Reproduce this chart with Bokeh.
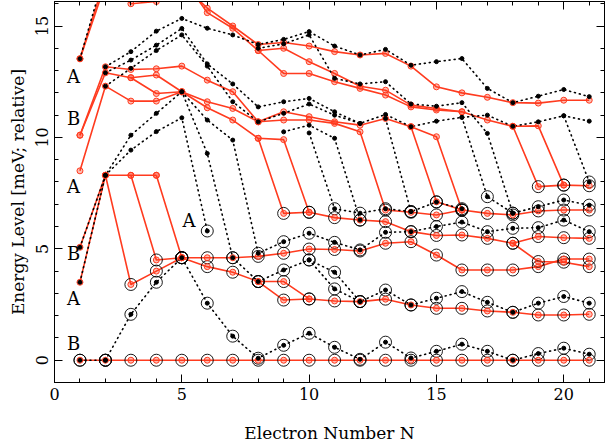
from bokeh.plotting import figure
from bokeh.models import Range1d, LinearAxis, Label, FixedTicker
from bokeh.embed import file_html
from bokeh.resources import INLINE

RED = "#ff3b1f"
FONT = "DejaVu Serif"

# ---------------- data: red (solid) level series: (first N, energies) ----------------
r_zero = [0, 0, 0, 0, 0, 0, 0, 0, 0, 0, 0, 0, 0, 0, 0, 0, 0, 0, 0, 0, 0]
r_a1 = [3.5, 8.3, 8.3, 8.3]
r_b1 = [5.07, 8.3]
r_d1 = [8.3, 3.4, 4.0, 4.6]
r_d2 = [8.3, 4.5, 4.6]
r_d3 = [8.3, 4.6, 4.6, 4.6, 4.66, 4.8, 4.99, 4.97, 4.9, 5.25, 5.32, 4.72, 4.05, 4.05, 4.05, 4.2, 4.54, 4.54]
r_l2 = [4.6, 4.2, 3.95, 3.53, 2.7, 2.75, 2.66, 2.63, 2.74, 2.48, 2.33, 2.33, 2.21, 2.15, 2.03, 2.03, 2.06]
r_l2b = [3.53, 3.53, 2.75]
r_t0a = [13.53, 17.2]
r_t0b = [13.53, 16.9]
r_t0c = [17.2, 16.0, 16.1, 16.9, 15.8, 15.0, 14.17, 14.26, 14.1, 13.85, 13.7, 13.77, 13.2, 12.27, 12.0, 11.8, 11.56, 11.54, 11.67, 11.67]
r_t1 = [17.2, 15.6, 14.9, 13.9, 14.0, 13.4, 12.87, 12.3, 12.12, 11.45, 11.3, 11.15, 10.78, 10.5, 10.52, 7.86, 7.83]
r_t2 = [13.9, 12.87, 12.87, 12.5, 12.2, 11.9, 11.37, 11.23, 11.15]
r_u1 = [10.1, 13.17, 13.05, 13.08, 13.2, 12.57, 12.05, 10.7, 11.15, 10.93, 10.7, 10.55, 10.85, 10.48, 10.03, 6.74, 6.59, 6.52, 6.7, 6.74, 6.74]
r_u2 = [10.1, 12.9, 12.68, 12.8, 12.05, 11.6, 11.3, 10.7, 10.78, 10.78, 10.63, 10.25, 6.74, 6.64, 6.52, 6.74]
r_u3 = [8.5, 12.3, 11.63, 11.63, 12.05, 11.33, 10.78, 9.96, 9.9, 6.64, 6.4, 6.29, 6.22, 5.77, 5.6, 5.62, 5.47, 5.25, 4.43, 4.4, 4.2]
r_u4 = [12.68, 11.97, 12.05]
r_u5 = [9.96, 6.59, 6.64]
r_u6 = [10.48, 7.11, 6.74]
r_u7 = [10.5, 7.79, 7.86]
r_u9 = [5.25, 5.55, 5.5, 5.47]

red_series = [
    (1, r_zero), (1, r_a1), (1, r_b1), (2, r_d1), (3, r_d2), (4, r_d3), (5, r_l2), (8, r_l2b),
    (1, r_t0a), (1, r_t0b), (2, r_t0c), (5, r_t1), (8, r_t2),
    (1, r_u1), (1, r_u2), (1, r_u3), (3, r_u4), (8, r_u5), (14, r_u6), (18, r_u7), (18, r_u9),
]

# ---------------- data: black dotted series ----------------
d_zero = [0, 0]
d_1 = [0, 2.06, 3.5, 4.6, 2.56, 1.08, 0.09, 0.67, 1.21, 0.58, 0.04, 0.81, 0.1, 0.4, 0.72, 0.4, 0.0, 0.3, 0.54, 0.27]
d_a = [3.5, 8.3, 9.43, 10.26, 10.88, 5.8]
d_b = [5.07, 8.3, 10.1, 11.08, 12.05, 9.28, 4.6, 3.53, 4.05, 4.5, 3.2, 2.63, 3.15, 2.48, 2.78, 3.08, 2.6, 2.15, 2.56, 2.86, 2.56]
d_b2 = [4.5, 3.95, 2.63]
d_c = [12.05, 10.78, 9.88, 4.8, 5.32, 5.7, 5.29, 4.95, 5.74, 5.77, 6.0, 6.2, 5.77, 5.92, 5.95, 6.29, 5.77]
d_e = [10.2, 6.8, 6.6, 6.8, 6.67, 7.1, 6.8]
d_h = [10.9, 7.34, 6.6, 6.89, 7.19, 6.96]
d_f = [10.25, 10.55, 9.96, 6.29]
d_g = [10.85, 6.67]
d_t0 = [13.53, 17.5]
d_u1 = [13.17, 13.85, 14.77, 15.34, 14.9, 14.6, 14.17, 14.4, 14.75, 14.1, 13.7, 13.95, 13.24, 13.4, 13.54, 12.2, 11.56, 11.85, 12.15, 11.83]
d_u2 = [12.9, 13.47, 14.14, 14.89, 13.3, 12.4, 11.37, 11.6, 11.75, 11.15, 10.63, 11.03, 10.48, 10.73, 10.9, 11.0, 10.5, 10.7, 10.97, 8.0]
d_u3 = [12.3, 13.1, 13.9, 14.6, 13.2, 11.6, 10.7, 11.08, 11.5, 11.0, 10.63]
d_u5 = [14.0, 14.2, 14.6, 12.65, 12.4, 12.5, 11.5, 11.4, 11.56, 10.18, 6.6]
d_u7 = [10.97, 10.73]

dot_series = [
    (1, d_zero), (2, d_1), (1, d_a), (1, d_b), (10, d_b2), (5, d_c), (10, d_e), (16, d_h),
    (9, d_f), (13, d_g),
    (1, d_t0), (2, d_u1), (2, d_u2), (2, d_u3), (8, d_u5), (20, d_u7),
]

# letter labels (x, y, text)
lab_x = [0.75, 0.75, 0.75, 0.75, 0.75, 0.75, 5.28]
lab_y = [12.75, 10.85, 7.8, 4.8, 2.78, 0.76, 6.29]
lab_t = ["A", "B", "A", "B", "A", "B", "A"]

x_major = [0, 5, 10, 15, 20]
y_major = [0, 5, 10, 15]


def expand(series):
    xs, ys = [], []
    for start, vals in series:
        xs.append(list(range(start, start + len(vals))))
        ys.append(list(vals))
    return xs, ys


rxs, rys = expand(red_series)
dxs, dys = expand(dot_series)

p = figure(width=606, height=445, x_range=Range1d(0, 21.6), y_range=Range1d(-1, 16.1),
           output_backend="svg", toolbar_location=None,
           min_border_left=54, min_border_right=2, min_border_top=1, min_border_bottom=57)
bottom = p.xaxis[0]
left = p.yaxis[0]
p.grid.visible = False
p.outline_line_color = "black"
p.background_fill_color = "white"

# lines
p.multi_line(rxs, rys, line_color=RED, line_width=1.6)
p.multi_line(dxs, dys, line_color="black", line_width=1.6, line_dash="1 4", line_cap="round")

# points
rpx = [x for xs in rxs for x in xs]
rpy = [y for ys in rys for y in ys]
dpx = [x for xs in dxs for x in xs]
dpy = [y for ys in dys for y in ys]

cx, cy = [], []
for x, y in list(zip(rpx, rpy)) + list(zip(dpx, dpy)):
    if y < 8.05 and (x >= 3 or y == 0):
        cx.append(x)
        cy.append(y)
p.scatter(cx, cy, marker="circle", size=12, fill_color=None, line_color="black", line_width=0.9)
p.scatter(rpx, rpy, marker="circle", size=6, fill_color=RED, fill_alpha=0.35, line_color=RED, line_width=1)
p.scatter(dpx, dpy, marker="circle", size=4, fill_color="black", line_color="black")

for x, y, t in zip(lab_x, lab_y, lab_t):
    p.add_layout(Label(x=x, y=y, text=t, text_font=FONT, text_font_size="18px",
                       text_align="center", text_baseline="middle", text_color="black"))

# axes (mirror ticks on top and right, without labels)
top = LinearAxis()
right = LinearAxis()
p.add_layout(top, "above")
p.add_layout(right, "right")
for ax in [bottom, top]:
    ax.ticker = FixedTicker(ticks=x_major, minor_ticks=list(range(0, 23)))
for ax in [left, right]:
    ax.ticker = FixedTicker(ticks=y_major, minor_ticks=list(range(-1, 17)))
for ax in [bottom, left, top, right]:
    ax.major_tick_in = 8
    ax.major_tick_out = 0
    ax.minor_tick_in = 4
    ax.minor_tick_out = 0
    ax.axis_line_color = "black"
    ax.major_tick_line_color = "black"
    ax.minor_tick_line_color = "black"
    ax.major_label_text_font = FONT
    ax.major_label_text_font_size = "16px"
    ax.major_label_text_color = "black"
    ax.axis_label_text_font = FONT
    ax.axis_label_text_font_size = "17px"
    ax.axis_label_text_font_style = "normal"
    ax.axis_label_text_color = "black"
top.major_label_overrides = {v: "" for v in x_major}
right.major_label_overrides = {v: "" for v in y_major}
top.major_label_standoff = 0
right.major_label_standoff = 0
bottom.axis_label = "Electron Number N"
left.axis_label = "Energy Level [meV; relative]"
bottom.major_label_standoff = 5
bottom.axis_label_standoff = 20
left.major_label_standoff = 6
left.major_label_orientation = "vertical"
left.axis_label_standoff = 6

open("out.html", "w").write(file_html(p, INLINE))
